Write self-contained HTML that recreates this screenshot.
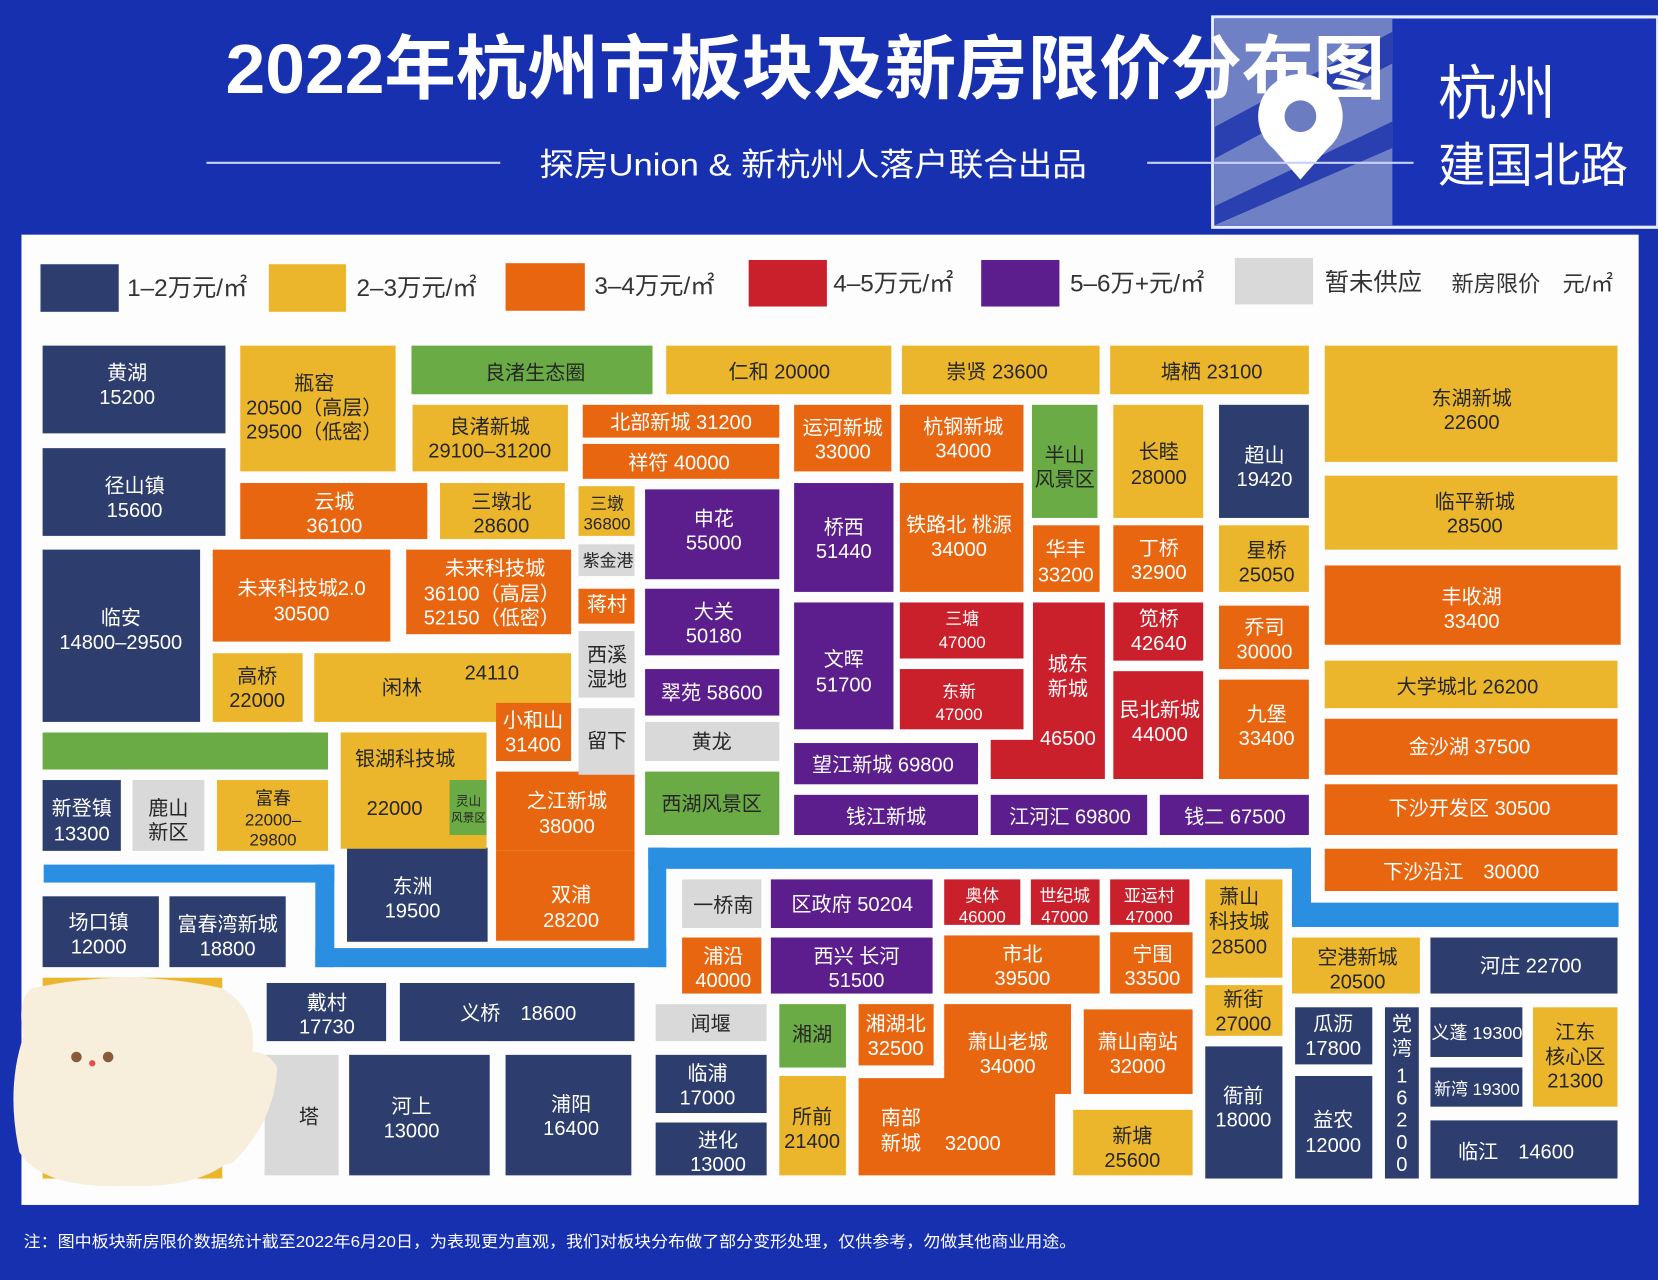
<!DOCTYPE html>
<html><head><meta charset="utf-8"><style>
html,body{margin:0;padding:0;background:#1730b0;}
svg{display:block;}
text{font-family:"Liberation Sans","Noto Sans CJK SC",sans-serif;}
.w{fill:#fff;font-size:19px;text-anchor:middle;}
.d{fill:#262626;font-size:19px;text-anchor:middle;}
.lg{fill:#333;font-size:23px;}
</style></head><body>
<svg width="1658" height="1280" viewBox="0 0 1568 1211" xmlns="http://www.w3.org/2000/svg">
<rect x="0" y="0" width="1568" height="1211" fill="#1730b0"/>
<!-- watermark -->
<rect x="1147" y="16" width="421" height="199" fill="#1a32b6" stroke="#e8ecff" stroke-width="3"/>
<rect x="1149" y="18" width="168" height="195" fill="#7080c4"/>
<polygon points="1149,120 1317,30 1317,60 1149,150" fill="#2a3fb0"/>
<polygon points="1149,195 1317,115 1317,140 1149,213" fill="#2a3fb0"/>
<circle cx="1230" cy="110" r="40" fill="#fff"/>
<polygon points="1195,130 1265,130 1230,170" fill="#fff"/>
<circle cx="1230" cy="110" r="15" fill="#6c7cc0"/>
<text x="1360" y="108" style="fill:#fff;font-size:56px;">杭州</text>
<text x="1360" y="172" style="fill:#fff;font-size:45px;">建国北路</text>
<!-- title -->
<text x="213" y="88" textLength="1097" lengthAdjust="spacingAndGlyphs" style="fill:#fff;font-size:66px;font-weight:bold;">2022年杭州市板块及新房限价分布图</text>
<line x1="195" y1="154" x2="473" y2="154" stroke="#c8d0ff" stroke-width="2"/>
<line x1="1085" y1="154" x2="1337" y2="154" stroke="#c8d0ff" stroke-width="2"/>
<text x="510" y="166" textLength="518" lengthAdjust="spacingAndGlyphs" style="fill:#fff;font-size:30px;">探房Union &amp; 新杭州人落户联合出品</text>
<!-- panel -->
<rect x="20" y="222" width="1530" height="918" fill="#fdfdfd"/>
<!-- legend -->
<rect x="38" y="250" width="74" height="45" fill="#2c3d6e"/><text x="120" y="280" class="lg">1–2万元/㎡</text>
<rect x="254" y="250" width="73" height="45" fill="#ebb62b"/><text x="337" y="280" class="lg">2–3万元/㎡</text>
<rect x="478" y="249" width="75" height="45" fill="#e8660f"/><text x="562" y="278" class="lg">3–4万元/㎡</text>
<rect x="708" y="246" width="74" height="44" fill="#c9202b"/><text x="788" y="276" class="lg">4–5万元/㎡</text>
<rect x="928" y="246" width="74" height="44" fill="#5b1e8c"/><text x="1012" y="276" class="lg">5–6万+元/㎡</text>
<rect x="1168" y="244" width="74" height="44" fill="#d9d9d9"/><text x="1253" y="275" class="lg">暂未供应</text>
<text x="1373" y="276" class="lg" style="font-size:21px;">新房限价　元/㎡</text>
<!-- river -->
<g fill="#2a8fe0">
<rect x="41" y="818" width="275" height="17"/>
<rect x="298" y="818" width="18" height="97"/>
<rect x="298" y="897" width="332" height="18"/>
<rect x="613" y="802" width="17" height="113"/>
<rect x="613" y="802" width="627" height="20"/>
<rect x="1222" y="802" width="18" height="75"/>
<rect x="1222" y="854" width="309" height="23"/>
</g>
<g>
<g fill="#2c3d6e">
<rect x="40" y="327" width="173" height="83"/><rect x="40" y="424" width="173" height="83"/><rect x="40" y="520" width="149" height="163"/>
<rect x="1153" y="383" width="85" height="107"/><rect x="40" y="738" width="74" height="67"/>
<rect x="328" y="802" width="133" height="89"/><rect x="40" y="848" width="110" height="67"/><rect x="160" y="848" width="110" height="67"/>
<rect x="1353" y="887" width="177" height="53"/><rect x="1225" y="953" width="73" height="54"/><rect x="1310" y="953" width="32" height="162"/>
<rect x="1353" y="953" width="87" height="47"/><rect x="1353" y="1010" width="87" height="37"/><rect x="620" y="998" width="105" height="55"/>
<rect x="620" y="1062" width="105" height="50"/><rect x="1140" y="990" width="73" height="125"/><rect x="1225" y="1018" width="73" height="97"/>
<rect x="1353" y="1060" width="177" height="55"/><rect x="252" y="930" width="113" height="55"/><rect x="378" y="930" width="222" height="55"/>
<rect x="330" y="998" width="133" height="114"/><rect x="478" y="998" width="119" height="114"/>
</g>
<g fill="#ebb62b">
<rect x="227" y="327" width="147" height="119"/><rect x="630" y="327" width="213" height="46"/><rect x="853" y="327" width="187" height="46"/>
<rect x="1050" y="327" width="188" height="46"/><rect x="1253" y="327" width="277" height="110"/><rect x="390" y="383" width="147" height="63"/>
<rect x="1053" y="383" width="85" height="107"/><rect x="1253" y="450" width="277" height="70"/><rect x="416" y="457" width="118" height="53"/>
<rect x="547" y="460" width="53" height="47"/><rect x="1153" y="497" width="85" height="63"/><rect x="1253" y="625" width="277" height="45"/>
<rect x="201" y="618" width="85" height="65"/><rect x="297" y="618" width="243" height="65"/><rect x="322" y="693" width="138" height="110"/>
<rect x="205" y="738" width="105" height="67"/><rect x="1140" y="832" width="73" height="93"/><rect x="1222" y="887" width="121" height="53"/>
<rect x="1140" y="932" width="73" height="48"/><rect x="1450" y="953" width="80" height="94"/><rect x="737" y="1018" width="63" height="94"/>
<rect x="1015" y="1050" width="113" height="62"/><rect x="40" y="925" width="170" height="190"/>
</g>
<g fill="#e8660f">
<rect x="551" y="383" width="186" height="31"/><rect x="551" y="420" width="186" height="33"/><rect x="751" y="383" width="92" height="63"/>
<rect x="851" y="383" width="117" height="63"/><rect x="227" y="457" width="177" height="53"/><rect x="851" y="457" width="117" height="103"/>
<rect x="977" y="497" width="63" height="63"/><rect x="1053" y="497" width="85" height="63"/><rect x="1253" y="535" width="280" height="75"/>
<rect x="201" y="520" width="168" height="87"/><rect x="384" y="520" width="156" height="80"/><rect x="547" y="557" width="53" height="33"/>
<rect x="1153" y="573" width="85" height="60"/><rect x="1153" y="643" width="85" height="94"/><rect x="1253" y="680" width="277" height="53"/>
<rect x="469" y="665" width="71" height="55"/><rect x="1253" y="742" width="277" height="48"/><rect x="1253" y="803" width="277" height="40"/>
<rect x="469" y="730" width="131" height="75"/><rect x="469" y="805" width="131" height="85"/><rect x="645" y="887" width="75" height="53"/>
<rect x="893" y="885" width="147" height="55"/><rect x="1050" y="882" width="78" height="58"/><rect x="812" y="950" width="71" height="58"/>
<rect x="893" y="950" width="120" height="85"/><rect x="1025" y="955" width="103" height="80"/><rect x="812" y="1020" width="186" height="92"/>
</g>
<g fill="#c9202b">
<rect x="851" y="570" width="117" height="53"/><rect x="851" y="633" width="117" height="57"/>
<polygon points="977,570 1045,570 1045,737 937,737 937,700 977,700"/>
<rect x="1053" y="570" width="85" height="55"/><rect x="1053" y="635" width="85" height="102"/>
<rect x="893" y="832" width="72" height="43"/><rect x="975" y="832" width="65" height="43"/><rect x="1050" y="832" width="75" height="43"/>
</g>
<g fill="#5b1e8c">
<rect x="610" y="463" width="127" height="85"/><rect x="751" y="457" width="94" height="103"/><rect x="610" y="557" width="127" height="63"/>
<rect x="610" y="633" width="127" height="44"/><rect x="751" y="570" width="94" height="120"/><rect x="751" y="703" width="174" height="39"/>
<rect x="751" y="752" width="174" height="38"/><rect x="937" y="752" width="148" height="38"/><rect x="1097" y="752" width="141" height="38"/>
<rect x="729" y="832" width="153" height="46"/><rect x="729" y="887" width="153" height="53"/>
</g>
<g fill="#6aab45">
<rect x="389" y="327" width="228" height="46"/><rect x="976" y="383" width="62" height="107"/><rect x="40" y="693" width="270" height="35"/>
<rect x="425" y="738" width="35" height="52"/><rect x="610" y="730" width="127" height="60"/><rect x="737" y="950" width="63" height="60"/>
</g>
<g fill="#d9d9d9">
<rect x="547" y="515" width="53" height="30"/><rect x="547" y="597" width="53" height="63"/><rect x="547" y="670" width="53" height="63"/>
<rect x="610" y="683" width="127" height="37"/><rect x="125" y="738" width="68" height="67"/><rect x="645" y="832" width="75" height="46"/>
<rect x="620" y="950" width="105" height="35"/><rect x="250" y="998" width="70" height="114"/>
</g>
</g>
<!-- sticker -->
<path d="M30,935 Q120,915 210,935 Q250,960 235,1010 Q250,1050 230,1085 Q200,1125 120,1122 Q40,1125 18,1090 Q5,1030 22,980 Q15,945 30,935 Z" fill="#f7eedb"/>
<path d="M200,1000 Q250,985 262,1010 Q260,1060 220,1100 L180,1110 Z" fill="#f7eedb"/>
<circle cx="72" cy="1000" r="5" fill="#8a5a3a"/><circle cx="102" cy="1000" r="5" fill="#8a5a3a"/><circle cx="87" cy="1006" r="3" fill="#e05050"/>
<g class="w">
<text x="120" y="359">黄湖</text><text x="120" y="382">15200</text>
<text x="127" y="466">径山镇</text><text x="127" y="489">15600</text>
<text x="114" y="591">临安</text><text x="114" y="614">14800–29500</text>
<text x="1196" y="437">超山</text><text x="1196" y="460">19420</text>
<text x="77" y="771">新登镇</text><text x="77" y="795">13300</text>
<text x="390" y="845">东洲</text><text x="390" y="868">19500</text>
<text x="93" y="879">场口镇</text><text x="93" y="902">12000</text>
<text x="215" y="881">富春湾新城</text><text x="215" y="904">18800</text>
<text x="1448" y="920">河庄 22700</text>
<text x="1261" y="975">瓜沥</text><text x="1261" y="998">17800</text>
<text x="1326" y="975">党</text><text x="1326" y="998">湾</text><text x="1326" y="1024">1</text><text x="1326" y="1045">6</text><text x="1326" y="1066">2</text><text x="1326" y="1087">0</text><text x="1326" y="1108">0</text>
<text x="1397" y="983" style="font-size:17px">义蓬 19300</text><text x="1397" y="1036" style="font-size:16px">新湾 19300</text>
<text x="669" y="1022">临浦</text><text x="669" y="1045">17000</text>
<text x="679" y="1085">进化</text><text x="679" y="1108">13000</text>
<text x="1176" y="1043">衙前</text><text x="1176" y="1066">18000</text>
<text x="1261" y="1066">益农</text><text x="1261" y="1090">12000</text>
<text x="1434" y="1096">临江　14600</text>
<text x="309" y="955">戴村</text><text x="309" y="978">17730</text>
<text x="490" y="965">义桥　18600</text>
<text x="389" y="1053">河上</text><text x="389" y="1076">13000</text>
<text x="540" y="1051">浦阳</text><text x="540" y="1074">16400</text>
<text x="644" y="406">北部新城 31200</text><text x="642" y="444">祥符 40000</text>
<text x="797" y="411">运河新城</text><text x="797" y="434">33000</text>
<text x="911" y="410">杭钢新城</text><text x="911" y="433">34000</text>
<text x="316" y="481">云城</text><text x="316" y="504">36100</text>
<text x="907" y="503">铁路北 桃源</text><text x="907" y="526">34000</text>
<text x="1008" y="526">华丰</text><text x="1008" y="550">33200</text>
<text x="1096" y="525">丁桥</text><text x="1096" y="548">32900</text>
<text x="1392" y="571">丰收湖</text><text x="1392" y="594">33400</text>
<text x="285" y="563">未来科技城2.0</text><text x="285" y="587">30500</text>
<text x="468" y="544">未来科技城</text><text x="465" y="568">36100（高层）</text><text x="465" y="591">52150（低密）</text>
<text x="574" y="578">蒋村</text>
<text x="1196" y="600">乔司</text><text x="1196" y="623">30000</text>
<text x="1198" y="682">九堡</text><text x="1198" y="705">33400</text>
<text x="1390" y="713">金沙湖 37500</text>
<text x="504" y="688">小和山</text><text x="504" y="711">31400</text>
<text x="1390" y="771">下沙开发区 30500</text><text x="1382" y="831">下沙沿江　30000</text>
<text x="536" y="764">之江新城</text><text x="536" y="788">38000</text>
<text x="540" y="853">双浦</text><text x="540" y="877">28200</text>
<text x="684" y="911">浦沿</text><text x="684" y="934">40000</text>
<text x="967" y="909">市北</text><text x="967" y="932">39500</text>
<text x="1090" y="909">宁围</text><text x="1090" y="932">33500</text>
<text x="847" y="975">湘湖北</text><text x="847" y="998">32500</text>
<text x="953" y="992">萧山老城</text><text x="953" y="1015">34000</text>
<text x="1076" y="992">萧山南站</text><text x="1076" y="1015">32000</text>
<text x="852" y="1064">南部</text><text x="852" y="1088">新城</text><text x="920" y="1088">32000</text>
<text x="910" y="591" style="font-size:16px">三塘</text><text x="910" y="613" style="font-size:16px">47000</text>
<text x="907" y="660" style="font-size:16px">东新</text><text x="907" y="681" style="font-size:16px">47000</text>
<text x="1010" y="635">城东</text><text x="1010" y="658">新城</text><text x="1010" y="705">46500</text>
<text x="1096" y="592">笕桥</text><text x="1096" y="615">42640</text>
<text x="1097" y="678">民北新城</text><text x="1097" y="701">44000</text>
<text x="929" y="853" style="font-size:16px">奥体</text><text x="929" y="873" style="font-size:16px">46000</text>
<text x="1007" y="853" style="font-size:16px">世纪城</text><text x="1007" y="873" style="font-size:16px">47000</text>
<text x="1087" y="853" style="font-size:16px">亚运村</text><text x="1087" y="873" style="font-size:16px">47000</text>
<text x="675" y="497">申花</text><text x="675" y="520">55000</text>
<text x="798" y="505">桥西</text><text x="798" y="528">51440</text>
<text x="675" y="585">大关</text><text x="675" y="608">50180</text>
<text x="673" y="662">翠苑 58600</text>
<text x="798" y="630">文晖</text><text x="798" y="654">51700</text>
<text x="835" y="730">望江新城 69800</text>
<text x="838" y="779">钱江新城</text><text x="1012" y="779">江河汇 69800</text><text x="1168" y="779">钱二 67500</text>
<text x="806" y="862">区政府 50204</text>
<text x="810" y="911">西兴 长河</text><text x="810" y="934">51500</text>
</g>
<g class="d">
<text x="297" y="369">瓶窑</text><text x="297" y="392">20500（高层）</text><text x="297" y="415">29500（低密）</text>
<text x="737" y="358">仁和 20000</text><text x="943" y="358">崇贤 23600</text><text x="1146" y="358">塘栖 23100</text>
<text x="1392" y="383">东湖新城</text><text x="1392" y="406">22600</text>
<text x="463" y="410">良渚新城</text><text x="463" y="433">29100–31200</text>
<text x="1096" y="434">长睦</text><text x="1096" y="458">28000</text>
<text x="1395" y="481">临平新城</text><text x="1395" y="504">28500</text>
<text x="474" y="481">三墩北</text><text x="474" y="504">28600</text>
<text x="574" y="482" style="font-size:16px">三墩</text><text x="574" y="501" style="font-size:16px">36800</text>
<text x="1198" y="527">星桥</text><text x="1198" y="550">25050</text>
<text x="1388" y="656">大学城北 26200</text>
<text x="243" y="646">高桥</text><text x="243" y="669">22000</text>
<text x="380" y="657">闲林</text><text x="465" y="643">24110</text>
<text x="383" y="724">银湖科技城</text><text x="373" y="771">22000</text>
<text x="258" y="761" style="font-size:17px">富春</text><text x="258" y="781" style="font-size:16px">22000–</text><text x="258" y="800" style="font-size:16px">29800</text>
<text x="1172" y="855">萧山</text><text x="1172" y="878">科技城</text><text x="1172" y="902">28500</text>
<text x="1284" y="912">空港新城</text><text x="1284" y="935">20500</text>
<text x="1176" y="952">新街</text><text x="1176" y="975">27000</text>
<text x="1490" y="983">江东</text><text x="1490" y="1006">核心区</text><text x="1490" y="1029">21300</text>
<text x="768" y="1063">所前</text><text x="768" y="1086">21400</text>
<text x="1071" y="1081">新塘</text><text x="1071" y="1104">25600</text>
<text x="506" y="359">良渚生态圈</text>
<text x="1007" y="437">半山</text><text x="1007" y="460">风景区</text>
<text x="443" y="762" style="font-size:12px">灵山</text><text x="443" y="777" style="font-size:11px">风景区</text>
<text x="673" y="767">西湖风景区</text>
<text x="768" y="985">湘湖</text>
<text x="575" y="536" style="font-size:16px">紫金港</text>
<text x="574" y="626">西溪</text><text x="574" y="649">湿地</text>
<text x="574" y="707">留下</text><text x="673" y="708">黄龙</text>
<text x="159" y="771">鹿山</text><text x="159" y="794">新区</text>
<text x="684" y="863">一桥南</text><text x="672" y="975">闻堰</text>
<text x="292" y="1063">塔</text>
</g>
<text x="22" y="1180" textLength="996" lengthAdjust="spacingAndGlyphs" style="fill:#fff;font-size:15px;">注：图中板块新房限价数据统计截至2022年6月20日，为表现更为直观，我们对板块分布做了部分变形处理，仅供参考，勿做其他商业用途。</text>
</svg>
</body></html>
